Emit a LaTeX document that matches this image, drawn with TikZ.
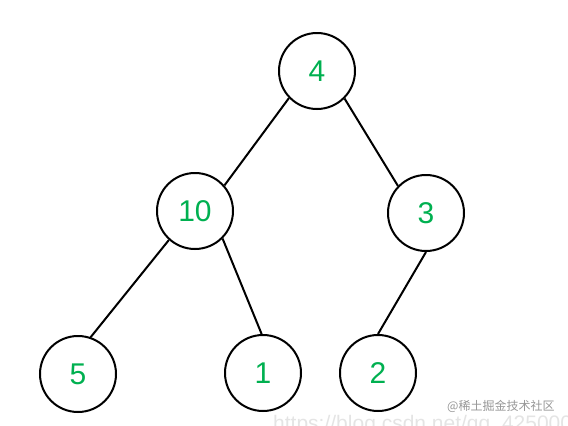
\documentclass[tikz,border=0pt]{standalone}
\usepackage{fontspec}
\setmainfont{Liberation Sans}
\newfontfamily\cjkfont{Noto Sans CJK SC}
\definecolor{numgreen}{RGB}{0,176,80}
\definecolor{markgray}{RGB}{150,150,150}
\definecolor{urlgray}{RGB}{228,228,228}
\tikzset{
	treenode/.style={circle, draw, line width=2pt, minimum size=76pt, inner sep=0pt, text=numgreen, font=\fontsize{30}{30}\selectfont},
	treeedge/.style={line width=2pt}
}
\begin{document}
\begin{tikzpicture}[x=1pt, y=-1pt]
	\useasboundingbox (0,0) rectangle (568,426);
	\clip (0,0) rectangle (568,426);
	% watermarks
	\node[anchor=base west, text=urlgray, font=\fontsize{21}{21}\selectfont, inner sep=0pt] (url) at (273,430) {https://blog.csdn.net/qq\_425000};
	\node[anchor=west, text=markgray, font=\cjkfont\fontsize{12}{12}\selectfont, inner sep=0pt] (mark) at (447,406) {@稀土掘金技术社区};
	% tree
	\foreach \val/\x/\y in {4/317/71, 10/195/211, 3/426/213, 5/78/374, 1/263/373, 2/378/373}
		\node[treenode] (n\val) at (\x,\y) {\val};
	\foreach \a/\pa/\b/\pb in {4/224/10/41, 4/315/3/136, 10/228/5/71, 10/315/1/92, 3/270/2/90}
		\draw[treeedge] (n\a.\pa) -- (n\b.\pb);
\end{tikzpicture}
\end{document}
